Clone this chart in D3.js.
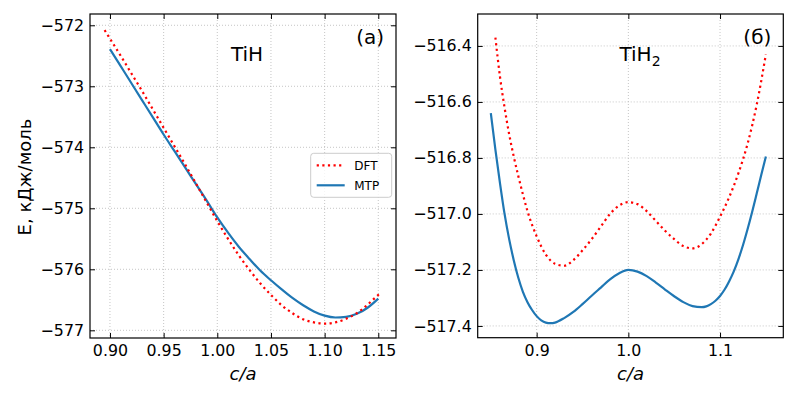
<!DOCTYPE html>
<html>
<head>
<meta charset="utf-8">
<script src="https://cdn.jsdelivr.net/npm/d3@7"></script>
<style>
  body { margin: 0; background: #fff; }
  svg, svg text { font-family: "DejaVu Sans", sans-serif; }
</style>
</head>
<body>
<div id="chart"></div>
<script>
// TiH (a)
var tihX = [0.895, 0.90, 0.91, 0.92, 0.93, 0.94, 0.95, 0.96, 0.97, 0.98, 0.99, 1.00, 1.01, 1.02, 1.03, 1.04,
            1.05, 1.06, 1.07, 1.08, 1.09, 1.10, 1.11, 1.12, 1.13, 1.14, 1.15, 1.153];
var tihDft = [-572.08, -572.22, -572.50, -572.79, -573.08, -573.38, -573.68, -573.98, -574.28, -574.59,
              -574.90, -575.21, -575.50, -575.77, -576.01, -576.23, -576.42, -576.59, -576.72, -576.82,
              -576.87, -576.89, -576.87, -576.81, -576.72, -576.58, -576.42, -576.38];
var tihMtpX = [0.90, 0.91, 0.92, 0.93, 0.94, 0.95, 0.96, 0.97, 0.98, 0.99, 1.00, 1.01, 1.02, 1.03, 1.04,
               1.05, 1.06, 1.07, 1.08, 1.09, 1.10, 1.11, 1.12, 1.13, 1.14, 1.15];
var tihMtp = [-572.39, -572.67, -572.95, -573.23, -573.51, -573.79, -574.06, -574.33, -574.60, -574.87,
              -575.15, -575.40, -575.63, -575.83, -576.02, -576.18, -576.33, -576.47, -576.59, -576.69,
              -576.76, -576.79, -576.78, -576.73, -576.63, -576.48];

// TiH2 (б)
var tih2DftX = [0.855, 0.86, 0.865, 0.87, 0.875, 0.88, 0.885, 0.89, 0.90, 0.91, 0.92, 0.93, 0.94, 0.95,
                0.96, 0.97, 0.98, 0.99, 1.00, 1.01, 1.02, 1.03, 1.04, 1.05, 1.06, 1.07, 1.08, 1.09,
                1.10, 1.11, 1.12, 1.13, 1.14, 1.15];
var tih2Dft = [-516.37, -516.51, -516.62, -516.715, -516.795, -516.865, -516.93, -516.99, -517.08, -517.145,
               -517.178, -517.185, -517.165, -517.13, -517.09, -517.045, -517.00, -516.97, -516.958, -516.965,
               -516.99, -517.025, -517.06, -517.09, -517.115, -517.123, -517.108, -517.07, -517.01, -516.94,
               -516.855, -516.75, -516.61, -516.43];
var tih2MtpX = [0.85, 0.855, 0.86, 0.865, 0.87, 0.875, 0.88, 0.885, 0.89, 0.895, 0.90, 0.905, 0.91, 0.915,
                0.92, 0.93, 0.94, 0.95, 0.96, 0.97, 0.98, 0.99, 1.00, 1.01, 1.02, 1.03, 1.04, 1.05,
                1.06, 1.07, 1.08, 1.085, 1.09, 1.095, 1.10, 1.105, 1.11, 1.115, 1.12, 1.125, 1.13,
                1.135, 1.14, 1.145, 1.15];
var tih2Mtp = [-516.64, -516.77, -516.89, -517.00, -517.09, -517.165, -517.228, -517.278, -517.315, -517.343,
               -517.365, -517.38, -517.388, -517.39, -517.388, -517.372, -517.35, -517.322, -517.292, -517.263,
               -517.234, -517.212, -517.20, -517.206, -517.222, -517.245, -517.27, -517.294, -517.315, -517.329,
               -517.333, -517.33, -517.322, -517.31, -517.293, -517.27, -517.24, -517.205, -517.162, -517.112,
               -517.055, -516.993, -516.927, -516.86, -516.795];

var tihXTicks = [0.90, 0.95, 1.00, 1.05, 1.10, 1.15];
var tihYTicks = [-572, -573, -574, -575, -576, -577];
var tih2XTicks = [0.9, 1.0, 1.1];
var tih2YTicks = [-516.4, -516.6, -516.8, -517.0, -517.2, -517.4];

var W = 798, H = 398;
var svg = d3.select("#chart").append("svg")
  .attr("width", W).attr("height", H);

var dftColor = "#ff0000", mtpColor = "#1f77b4";
var font = "DejaVu Sans, sans-serif";

function zip(xs, ys) { return xs.map(function(x, i) { return {x: x, y: ys[i]}; }); }

function panel(opt) {
  var w = opt.right - opt.left, h = opt.bottom - opt.top;
  var g = svg.append("g").attr("transform", `translate(${opt.left},${opt.top})`);

  var x = d3.scaleLinear().domain(opt.xDomain).range([0, w]);
  var y = d3.scaleLinear().domain(opt.yDomain).range([h, 0]);

  // grid
  g.append("g").selectAll("line").data(opt.xTicks).join("line")
    .attr("x1", d => x(d)).attr("x2", d => x(d)).attr("y1", 0).attr("y2", h)
    .attr("stroke", "#b8b8b8").attr("stroke-width", 0.8).attr("stroke-dasharray", "1,2");
  g.append("g").selectAll("line").data(opt.yTicks).join("line")
    .attr("y1", d => y(d)).attr("y2", d => y(d)).attr("x1", 0).attr("x2", w)
    .attr("stroke", "#b8b8b8").attr("stroke-width", 0.8).attr("stroke-dasharray", "1,2");

  var line = d3.line().x(d => x(d.x)).y(d => y(d.y)).curve(d3.curveMonotoneX);

  g.append("path").datum(zip(opt.mtpX, opt.mtp))
    .attr("fill", "none").attr("stroke", mtpColor).attr("stroke-width", 2.2)
    .attr("d", line);
  g.append("path").datum(zip(opt.dftX, opt.dft))
    .attr("fill", "none").attr("stroke", dftColor).attr("stroke-width", 2.2)
    .attr("stroke-dasharray", "2.2,3.4")
    .attr("d", line);

  // axes, ticks inward
  var ax = function(a) {
    a.attr("font-family", font).attr("font-size", "15.8px");
    a.select(".domain").remove();
    a.selectAll(".tick line").attr("stroke", "#000").attr("stroke-width", 1);
    a.selectAll("text").attr("fill", "#000");
  };
  g.append("g").attr("transform", `translate(0,${h})`)
    .call(d3.axisBottom(x).tickValues(opt.xTicks).tickSize(-5).tickPadding(7).tickFormat(d3.format(opt.xFmt)))
    .call(ax);
  g.append("g")
    .call(d3.axisTop(x).tickValues(opt.xTicks).tickSize(-5).tickFormat(""))
    .call(ax);
  g.append("g")
    .call(d3.axisLeft(y).tickValues(opt.yTicks).tickSize(-5).tickPadding(6).tickFormat(d3.format(opt.yFmt)))
    .call(ax);
  g.append("g").attr("transform", `translate(${w},0)`)
    .call(d3.axisRight(y).tickValues(opt.yTicks).tickSize(-5).tickFormat(""))
    .call(ax);

  g.append("rect").attr("width", w).attr("height", h)
    .attr("fill", "none").attr("stroke", "#000").attr("stroke-width", 1.2);

  // labels
  var t = g.append("text").attr("x", opt.titleX - opt.left).attr("y", 61 - opt.top)
    .attr("text-anchor", "middle").attr("font-size", "20px").text(opt.title);
  if (opt.sub) {
    t.append("tspan").attr("font-size", "14px").attr("dy", 5).text(opt.sub);
  }
  g.append("text").attr("x", w - 12).attr("y", 44 - opt.top)
    .attr("text-anchor", "end").attr("font-size", "20px").text(opt.tag);
  g.append("text").attr("x", w / 2).attr("y", 380 - opt.top)
    .attr("text-anchor", "middle").attr("font-size", "18px").attr("font-style", "italic").text("c/a");

  return g;
}

var left = panel({
  left: 90, right: 396, top: 14, bottom: 338,
  xDomain: [0.8814, 1.1665], yDomain: [-577.126, -571.815],
  xTicks: tihXTicks, yTicks: tihYTicks, xFmt: ".2f", yFmt: "d",
  dftX: tihX, dft: tihDft, mtpX: tihMtpX, mtp: tihMtp,
  title: "TiH", titleX: 247, tag: "(a)"
});

panel({
  left: 477.7, right: 783.3, top: 14, bottom: 337.7,
  xDomain: [0.8357, 1.169], yDomain: [-517.442, -516.286],
  xTicks: tih2XTicks, yTicks: tih2YTicks, xFmt: ".1f", yFmt: ".1f",
  dftX: tih2DftX, dft: tih2Dft, mtpX: tih2MtpX, mtp: tih2Mtp,
  title: "TiH", sub: "2", titleX: 640, tag: "(б)"
});

// y label
svg.append("text")
  .attr("transform", "translate(31,177) rotate(-90)")
  .attr("text-anchor", "middle").attr("font-size", "18px")
  .text("E, кДж/моль");

// legend
var lg = left.append("g").attr("transform", `translate(${310.7 - 90},${153.3 - 14})`);
lg.append("rect").attr("width", 81).attr("height", 44).attr("rx", 3)
  .attr("fill", "#fff").attr("fill-opacity", 0.8).attr("stroke", "#ccc");
var items = [
  {name: "DFT", color: dftColor, dash: "2.2,3.4"},
  {name: "MTP", color: mtpColor, dash: null}
];
items.forEach(function(it, i) {
  var yy = 12 + i * 20;
  lg.append("line").attr("x1", 6).attr("x2", 34).attr("y1", yy).attr("y2", yy)
    .attr("stroke", it.color).attr("stroke-width", 2.2)
    .attr("stroke-dasharray", it.dash);
  lg.append("text").attr("x", 43.5).attr("y", yy + 4.5)
    .attr("font-size", "12px").text(it.name);
});
</script>
</body>
</html>
